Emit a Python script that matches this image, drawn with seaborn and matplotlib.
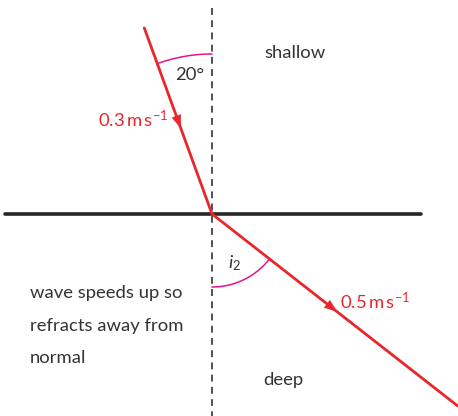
import numpy as np
import pandas as pd
import matplotlib.pyplot as plt
from matplotlib.patches import FancyArrowPatch
import seaborn as sns

# ----------------------------
# Diagram values
# ----------------------------
incident_angle = 20          # degrees from the normal
refracted_angle = 52         # as drawn in the picture
incident_len = 198
refracted_len = 312
arrow_pos = [0.54, 0.51]     # fraction along each ray
speed_labels = ["$0.3\\,m\\,s^{-1}$", "$0.5\\,m\\,s^{-1}$"]
region_labels = ["shallow", "deep"]
angle_labels = ["20°", "$\\mathit{i}_2$"]
note_lines = ["wave speeds up so", "refracts away from", "normal"]

RED = "#e8262c"
PINK = "#e3168f"
INK = "#333333"

sns.set_style("white")
plt.rcParams["font.family"] = ["Lato", "DejaVu Sans"]
plt.rcParams["mathtext.fontset"] = "custom"
plt.rcParams["mathtext.rm"] = "Lato"
plt.rcParams["mathtext.it"] = "Lato:italic"
plt.rcParams["mathtext.default"] = "regular"

fig = plt.figure(figsize=(4.58, 4.16), dpi=100)
ax = fig.add_axes([0, 0, 1, 1])
ax.set_xlim(0, 458)
ax.set_ylim(416, 0)
ax.axis("off")

# point where the ray meets the boundary
ox, oy = 212, 214

# ----------------------------
# Normal and boundary
# ----------------------------
ax.plot([ox, ox], [8, 416], color="#222222", lw=1.1, linestyle=(0, (4.5, 3.5)))
boundary = pd.DataFrame({"x": [5, 421], "y": [oy, oy]})
sns.lineplot(data=boundary, x="x", y="y", color="#262626", lw=2.6, ax=ax, sort=False)

# ----------------------------
# Rays
# ----------------------------
a1 = np.radians(incident_angle)
a2 = np.radians(refracted_angle)
start = (ox - incident_len * np.sin(a1), oy - incident_len * np.cos(a1))
end = (ox + refracted_len * np.sin(a2), oy + refracted_len * np.cos(a2))

rays = pd.DataFrame({"x": [start[0], ox, end[0]], "y": [start[1], oy, end[1]]})
sns.lineplot(data=rays, x="x", y="y", color=RED, lw=2.0, ax=ax, sort=False)

# arrow heads
for (p, q), f in zip([(start, (ox, oy)), ((ox, oy), end)], arrow_pos):
    tip = (p[0] + f * (q[0] - p[0]), p[1] + f * (q[1] - p[1]))
    back = (tip[0] - 0.04 * (q[0] - p[0]), tip[1] - 0.04 * (q[1] - p[1]))
    ax.add_patch(FancyArrowPatch(back, tip,
                                 arrowstyle="-|>,head_length=0.6,head_width=0.22",
                                 mutation_scale=16, color=RED, lw=0,
                                 shrinkA=0, shrinkB=0))

# ----------------------------
# Angle arcs
# ----------------------------
t = np.linspace(0, a1, 40)
r = 160
ax.plot(ox - r * np.sin(t), oy - r * np.cos(t), color=PINK, lw=1.1)
t = np.linspace(0, a2, 60)
r = 73
ax.plot(ox + r * np.sin(t), oy + r * np.cos(t), color=PINK, lw=1.1)

# ----------------------------
# Labels
# ----------------------------
fs = 13.3
ax.text(190, 75, angle_labels[0], color=INK, fontsize=fs, ha="center", va="center")
ax.text(235, 263, angle_labels[1], color=INK, fontsize=fs, ha="center", va="center")
ax.text(295, 53, region_labels[0], color=INK, fontsize=fs, ha="center", va="center")
ax.text(283, 380, region_labels[1], color=INK, fontsize=fs, ha="center", va="center")
ax.text(98, 119, speed_labels[0], color=RED, fontsize=fs, ha="left", va="center")
ax.text(340, 301, speed_labels[1], color=RED, fontsize=fs, ha="left", va="center")

for i, line in enumerate(note_lines):
    ax.text(30, 293 + i * 32.5, line, color=INK, fontsize=fs, ha="left", va="center")

fig.savefig("out.png", dpi=100)
